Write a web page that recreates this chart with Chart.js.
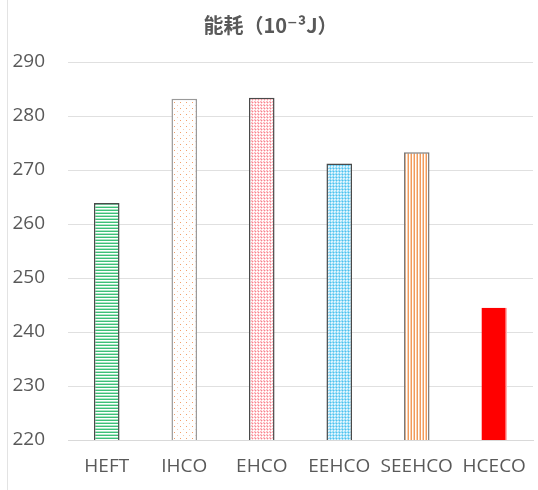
<!DOCTYPE html>
<html>
<head>
<meta charset="utf-8">
<script src="https://cdn.jsdelivr.net/npm/chart.js@4"></script>
<style>
  html, body { margin: 0; padding: 0; background: #ffffff; }
  #wrap { position: relative; width: 538px; height: 490px; }
</style>
</head>
<body>
<div id="wrap"><canvas id="c" width="538" height="490"></canvas></div>
<script>
// Energy consumption per scheme (10^-3 J)
const categories = ['HEFT', 'IHCO', 'EHCO', 'EEHCO', 'SEEHCO', 'HCECO'];
const energy = [263.9, 283.2, 283.4, 271.2, 273.3, 244.5];
const yTicks = [220, 230, 240, 250, 260, 270, 280, 290];
const titleText = '能耗（10⁻³J）';

// Small tiled fills for each bar
function makePattern(w, h, draw) {
  const cv = document.createElement('canvas');
  cv.width = w; cv.height = h;
  const g = cv.getContext('2d');
  g.fillStyle = '#ffffff';
  g.fillRect(0, 0, w, h);
  draw(g);
  return document.getElementById('c').getContext('2d').createPattern(cv, 'repeat');
}
function px(g, x, y, col) { g.fillStyle = col; g.fillRect(x, y, 1, 1); }

const hStripes = makePattern(1, 3, g => {
  px(g, 0, 0, '#3dbf78');
  px(g, 0, 2, '#ade8c4');
});
const sparseDots = makePattern(6, 6, g => {
  px(g, 0, 0, '#f2a06a');
  px(g, 3, 3, '#f8cdb0');
});
const pinkGrid = makePattern(3, 3, g => {
  g.fillStyle = '#ffd0d4'; g.fillRect(0, 0, 3, 3);
  g.fillStyle = '#ffffff'; g.fillRect(1, 1, 2, 2);
  px(g, 0, 0, '#f4838f');
  px(g, 2, 2, '#ffb3ba');
});
const blueGrid = makePattern(3, 3, g => {
  g.fillStyle = '#8fd9f6'; g.fillRect(0, 0, 3, 3);
  g.fillStyle = '#dff4fd'; g.fillRect(1, 1, 2, 2);
  px(g, 0, 0, '#4cc1ee');
  px(g, 2, 2, '#a8e3f9');
});
const vStripes = makePattern(3, 1, g => {
  px(g, 0, 0, '#f19a5c');
  px(g, 2, 0, '#f9d0b0');
});

const fills = [hStripes, sparseDots, pinkGrid, blueGrid, vStripes, '#ff0000'];
const edges = ['#4a4a4a', '#9a9a9a', '#4a4a4a', '#4a4a4a', '#7a7a7a', '#ffb0b0'];
const edgeWidths = [1.5, 1.5, 1.5, 1.5, 1.5, {left: 0, top: 0, bottom: 0, right: 1.5}];

const chartBorder = {
  id: 'chartBorder',
  beforeDraw(chart) {
    const ctx = chart.ctx;
    ctx.save();
    ctx.strokeStyle = '#e3e3e3';
    ctx.lineWidth = 1;
    ctx.beginPath();
    ctx.moveTo(7.5, 0);
    ctx.lineTo(7.5, 490);
    ctx.stroke();
    ctx.restore();
  }
};

new Chart(document.getElementById('c'), {
  type: 'bar',
  data: {
    labels: categories,
    datasets: [{
      data: energy,
      backgroundColor: fills,
      borderColor: edges,
      borderWidth: edgeWidths,
      borderSkipped: 'bottom',
      categoryPercentage: 1,
      barPercentage: 0.33
    }]
  },
  options: {
    responsive: false,
    animation: false,
    devicePixelRatio: 1,
    layout: { padding: { left: 8, right: 5, top: 3, bottom: 0 } },
    plugins: {
      legend: { display: false },
      tooltip: { enabled: false },
      title: {
        display: true,
        text: titleText,
        color: '#595959',
        font: { family: '"Noto Sans CJK SC", "DejaVu Sans", sans-serif', size: 20, weight: 'bold' },
        padding: { top: 10, bottom: 25 }
      }
    },
    scales: {
      x: {
        grid: { display: false, drawTicks: false },
        border: { display: true, color: '#d9d9d9', width: 1 },
        ticks: {
          color: '#595959',
          font: { family: '"Open Sans", "Liberation Sans", sans-serif', size: 19 },
          padding: 15,
          maxRotation: 0
        },
        afterFit(s) {
          s.height = 50;
          s.paddingLeft = 0;
          s.paddingRight = 0;
        }
      },
      y: {
        min: 220,
        max: 290,
        afterBuildTicks(s) { s.ticks = yTicks.map(v => ({ value: v })); },
        grid: { color: '#e0e0e0', drawTicks: false, lineWidth: 1 },
        border: { display: false },
        ticks: {
          color: '#595959',
          font: { family: '"Open Sans", "Liberation Sans", sans-serif', size: 19 },
          padding: 23
        },
        afterFit(s) { s.width = 60; }
      }
    }
  },
  plugins: [chartBorder]
});
</script>
</body>
</html>
